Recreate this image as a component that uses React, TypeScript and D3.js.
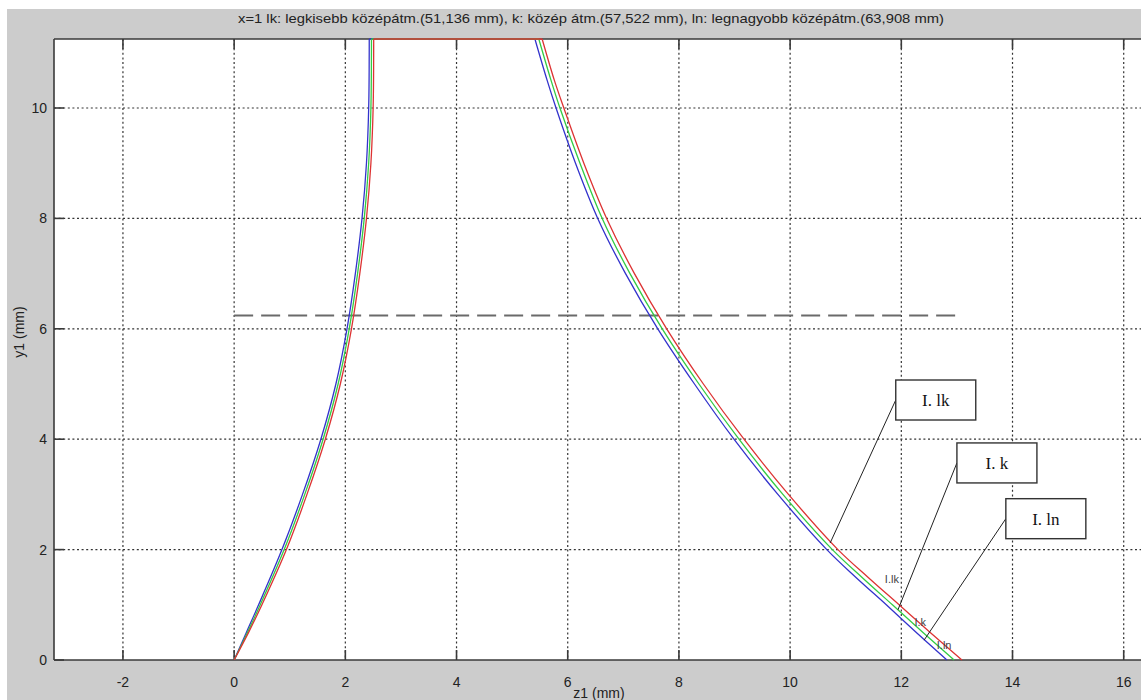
import React from "react";
import * as d3 from "d3";

// ---- data ----
const TITLE = "x=1 lk: legkisebb középátm.(51,136 mm), k: közép átm.(57,522 mm), ln: legnagyobb középátm.(63,908 mm)";
const X_LABEL = "z1 (mm)";
const Y_LABEL = "y1 (mm)";
const X_TICKS = [-2, 0, 2, 4, 6, 8, 10, 12, 14, 16];
const Y_TICKS = [0, 2, 4, 6, 8, 10];
const X_DOMAIN = [-3.24, 16.32];
const Y_DOMAIN = [0, 11.25];

// left flank (bottom -> top)
const LEFT_Y = [0, 0.5, 1, 2, 3, 4, 5, 6, 7, 8, 9, 10, 11.25];
const LEFT_Z_LK = [0, 0.26, 0.5, 0.94, 1.31, 1.64, 1.91, 2.11, 2.26, 2.38, 2.46, 2.5, 2.51];
const LEFT_Z_K = [0, 0.24, 0.47, 0.9, 1.27, 1.6, 1.87, 2.07, 2.22, 2.34, 2.42, 2.46, 2.47];
const LEFT_Z_LN = [0, 0.22, 0.44, 0.86, 1.23, 1.56, 1.83, 2.03, 2.18, 2.3, 2.38, 2.42, 2.43];

// right flank (top -> bottom)
const RIGHT_Y = [11.25, 10.5, 10, 9, 8, 7, 6, 5, 4, 3, 2, 1.5, 1, 0.5, 0];
const RIGHT_Z_LK = [5.54, 5.76, 5.93, 6.29, 6.7, 7.2, 7.78, 8.44, 9.17, 9.97, 10.86, 11.4, 11.96, 12.52, 13.09];
const RIGHT_Z_K = [5.48, 5.7, 5.86, 6.22, 6.62, 7.12, 7.7, 8.36, 9.08, 9.87, 10.76, 11.29, 11.84, 12.39, 12.95];
const RIGHT_Z_LN = [5.41, 5.63, 5.79, 6.14, 6.54, 7.04, 7.62, 8.28, 8.99, 9.78, 10.66, 11.18, 11.73, 12.27, 12.82];

const SERIES_NAMES = ["ln", "k", "lk"];
const SERIES_LEFT = [LEFT_Z_LN, LEFT_Z_K, LEFT_Z_LK];
const SERIES_RIGHT = [RIGHT_Z_LN, RIGHT_Z_K, RIGHT_Z_LK];
const SERIES_COLORS = ["#3333cc", "#33cc44", "#dd3333"];

// dashed reference line
const REF_Y = 6.24;
const REF_Z = [0, 13.0];

// callouts
const CALLOUT_LABELS = ["I. lk", "I. k", "I. ln"];
const CALLOUT_BOX_Z = [11.9, 13.0, 13.88];
const CALLOUT_BOX_Y = [4.71, 3.57, 2.56];
const CALLOUT_TARGET_Z = [10.72, 11.94, 12.41];
const CALLOUT_TARGET_Y = [2.12, 0.91, 0.36];

const INLINE_LABELS = ["I.lk", "I.k", "I.ln"];
const INLINE_Z = [11.83, 12.34, 12.77];
const INLINE_Y = [1.47, 0.69, 0.27];

// ---- layout ----
const W = 1141;
const H = 700;
const PLOT_LEFT = 54;
const PLOT_RIGHT = 1141.5;
const PLOT_TOP = 39;
const PLOT_BOTTOM = 660;
const SANS = "'Liberation Sans', Arial, sans-serif";
const SERIF = "'Liberation Serif', 'Times New Roman', serif";

export default function App() {
  const x = d3.scaleLinear().domain(X_DOMAIN).range([PLOT_LEFT, PLOT_RIGHT]);
  const y = d3.scaleLinear().domain(Y_DOMAIN).range([PLOT_BOTTOM, PLOT_TOP]);

  const flank = d3
    .line<[number, number]>()
    .x((d) => x(d[0]))
    .y((d) => y(d[1]))
    .curve(d3.curveCatmullRom.alpha(0.5));

  const paths = SERIES_NAMES.map((_, i) => {
    const left: [number, number][] = LEFT_Y.map((v, j) => [SERIES_LEFT[i][j], v]);
    const right: [number, number][] = RIGHT_Y.map((v, j) => [SERIES_RIGHT[i][j], v]);
    const top = d3.line()([
      [x(left[left.length - 1][0]), y(left[left.length - 1][1])],
      [x(right[0][0]), y(right[0][1])],
    ]);
    return { left: flank(left) || "", right: flank(right) || "", top: top || "" };
  });

  const tickLen = 10;
  const boxW = 80;
  const boxH = 40;

  return (
    <svg
      width={W}
      height={H}
      style={{ position: "absolute", left: 0, top: 0, display: "block" }}
      xmlns="http://www.w3.org/2000/svg"
    >
      <rect x={0} y={0} width={W} height={H} fill="#ffffff" />
      <rect x={7} y={9} width={W - 7} height={H - 9} fill="#cccccc" />
      <rect
        x={PLOT_LEFT}
        y={PLOT_TOP}
        width={PLOT_RIGHT - PLOT_LEFT + 10}
        height={PLOT_BOTTOM - PLOT_TOP}
        fill="#ffffff"
      />
      <defs>
        <clipPath id="plotclip">
          <rect x={PLOT_LEFT} y={PLOT_TOP - 1} width={PLOT_RIGHT - PLOT_LEFT + 10} height={PLOT_BOTTOM - PLOT_TOP + 2} />
        </clipPath>
      </defs>

      {/* grid */}
      <g stroke="#333" strokeWidth={1.2} strokeDasharray="2,2.6" fill="none">
        {X_TICKS.map((t) => (
          <line key={"gx" + t} x1={x(t)} x2={x(t)} y1={PLOT_TOP} y2={PLOT_BOTTOM} />
        ))}
        {Y_TICKS.filter((t) => t > 0).map((t) => (
          <line key={"gy" + t} x1={PLOT_LEFT} x2={W} y1={y(t)} y2={y(t)} />
        ))}
      </g>

      {/* axes box */}
      <g stroke="#3a3a3a" strokeWidth={1.6} fill="none">
        <line x1={PLOT_LEFT} x2={W} y1={PLOT_BOTTOM} y2={PLOT_BOTTOM} />
        <line x1={PLOT_LEFT} x2={W} y1={PLOT_TOP} y2={PLOT_TOP} />
        <line x1={PLOT_LEFT} x2={PLOT_LEFT} y1={PLOT_TOP} y2={PLOT_BOTTOM} />
        {X_TICKS.map((t) => (
          <g key={"tx" + t}>
            <line x1={x(t)} x2={x(t)} y1={PLOT_BOTTOM} y2={PLOT_BOTTOM - tickLen} />
            <line x1={x(t)} x2={x(t)} y1={PLOT_TOP} y2={PLOT_TOP + tickLen} />
          </g>
        ))}
        {Y_TICKS.map((t) => (
          <line key={"ty" + t} x1={PLOT_LEFT} x2={PLOT_LEFT + tickLen} y1={y(t)} y2={y(t)} />
        ))}
      </g>

      {/* dashed reference line */}
      <line
        x1={x(REF_Z[0])}
        x2={x(REF_Z[1])}
        y1={y(REF_Y)}
        y2={y(REF_Y)}
        stroke="#6a6a6a"
        strokeWidth={2}
        strokeDasharray="19,8"
      />

      {/* profiles */}
      <g clipPath="url(#plotclip)" fill="none">
        {paths.map((p, i) => (
          <g key={SERIES_NAMES[i]} stroke={SERIES_COLORS[i]} strokeWidth={1.3}>
            <path d={p.left} />
            <path d={p.top} />
            <path d={p.right} />
          </g>
        ))}
      </g>

      {/* inline labels */}
      <g fontFamily={SANS} fontSize={11} fill="#444" textAnchor="middle">
        {INLINE_LABELS.map((l, i) => (
          <text key={l} x={x(INLINE_Z[i])} y={y(INLINE_Y[i]) + 4}>
            {l}
          </text>
        ))}
      </g>

      {/* callouts */}
      {CALLOUT_LABELS.map((l, i) => {
        const bx = x(CALLOUT_BOX_Z[i]);
        const by = y(CALLOUT_BOX_Y[i]);
        return (
          <g key={l}>
            <line
              x1={bx}
              y1={by}
              x2={x(CALLOUT_TARGET_Z[i])}
              y2={y(CALLOUT_TARGET_Y[i])}
              stroke="#222"
              strokeWidth={1}
            />
            <rect
              x={bx}
              y={by - boxH / 2}
              width={boxW}
              height={boxH}
              fill="#fff"
              stroke="#333"
              strokeWidth={1.4}
            />
            <text
              x={bx + boxW / 2}
              y={by + 6}
              fontFamily={SERIF}
              fontSize={17}
              fill="#111"
              textAnchor="middle"
            >
              {l}
            </text>
          </g>
        );
      })}

      {/* tick labels */}
      <g fontFamily={SANS} fontSize={14} fill="#222">
        {X_TICKS.map((t) => (
          <text key={"lx" + t} x={x(t)} y={PLOT_BOTTOM + 27} textAnchor="middle">
            {t}
          </text>
        ))}
        {Y_TICKS.map((t) => (
          <text key={"ly" + t} x={PLOT_LEFT - 7} y={y(t) + 5} textAnchor="end">
            {t}
          </text>
        ))}
      </g>

      {/* axis labels */}
      <text x={599} y={698} fontFamily={SANS} fontSize={14} fill="#222" textAnchor="middle">
        {X_LABEL}
      </text>
      <text
        transform={`translate(24, 332) rotate(-90)`}
        fontFamily={SANS}
        fontSize={14}
        fill="#222"
        textAnchor="middle"
      >
        {Y_LABEL}
      </text>

      {/* title */}
      <text
        x={238}
        y={23}
        fontFamily={SANS}
        fontSize={13}
        fill="#222"
        textLength={706}
        lengthAdjust="spacingAndGlyphs"
      >
        {TITLE}
      </text>
    </svg>
  );
}
